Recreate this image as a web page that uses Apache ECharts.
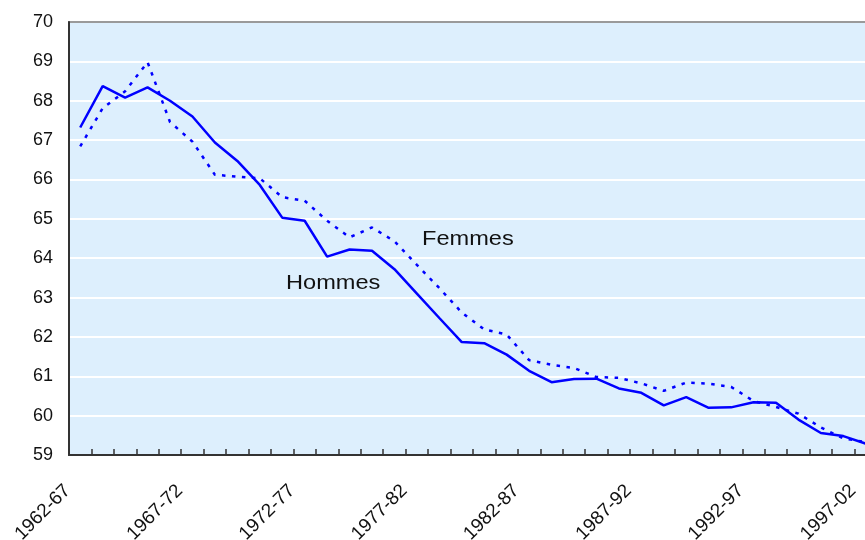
<!DOCTYPE html>
<html>
<head>
<meta charset="utf-8">
<script src="https://cdn.jsdelivr.net/npm/echarts@6/dist/echarts.min.js"></script>
<style>
html,body{margin:0;padding:0;background:#fff;overflow:hidden;}
#chart{width:865px;height:540px;}
</style>
</head>
<body>
<div id="chart"></div>
<script>
var categories = ['1962-67','1963-68','1964-69','1965-70','1966-71','1967-72','1968-73','1969-74','1970-75','1971-76','1972-77','1973-78','1974-79','1975-80','1976-81','1977-82','1978-83','1979-84','1980-85','1981-86','1982-87','1983-88','1984-89','1985-90','1986-91','1987-92','1988-93','1989-94','1990-95','1991-96','1992-97','1993-98','1994-99','1995-00','1996-01','1997-02'];
var hommes = [67.32,68.37,68.08,68.34,68.0,67.6,66.94,66.47,65.86,65.03,64.95,64.04,64.22,64.19,63.72,63.1,62.48,61.87,61.84,61.55,61.14,60.85,60.93,60.94,60.69,60.58,60.26,60.47,60.2,60.21,60.34,60.33,59.9,59.56,59.48,59.29];
var femmes = [66.84,67.81,68.24,68.98,67.46,66.96,66.12,66.07,66.03,65.55,65.46,64.95,64.53,64.78,64.43,63.83,63.24,62.62,62.19,62.06,61.41,61.29,61.21,60.98,60.96,60.82,60.63,60.84,60.81,60.73,60.37,60.22,60.05,59.7,59.42,59.33];
var seriesNames = ['Hommes','Femmes'];

var FONT = '"Liberation Sans", Arial, sans-serif';
var chart = echarts.init(document.getElementById('chart'), null, {renderer:'canvas'});
chart.setOption({
  animation: false,
  backgroundColor: '#ffffff',
  grid: {
    left: 69, width: 808, top: 22, height: 433,
    containLabel: false, outerBoundsMode: 'none',
    show: true, backgroundColor: '#ddeffd',
    borderColor: '#9a9a9a', borderWidth: 2
  },
  xAxis: {
    type: 'category',
    data: categories,
    boundaryGap: true,
    axisLine: {show: true, lineStyle: {color: '#333333', width: 2}},
    axisTick: {show: true, inside: true, length: 6, interval: 0, lineStyle: {color: '#333333', width: 1.5}},
    axisLabel: {interval: 4, rotate: 45, margin: 20, padding: [0, 18, 0, 0], fontSize: 19, fontFamily: FONT, color: '#111111'},
    splitLine: {show: false}
  },
  yAxis: {
    type: 'value',
    min: 59, max: 70, interval: 1,
    axisLine: {show: true, lineStyle: {color: '#333333', width: 2}},
    axisTick: {show: false},
    axisLabel: {margin: 16, fontSize: 18, fontFamily: FONT, color: '#111111'},
    splitLine: {show: true, showMinLine: false, showMaxLine: false, lineStyle: {color: '#ffffff', width: 2}}
  },
  series: [
    {
      name: seriesNames[0], type: 'line', data: hommes, symbol: 'none', smooth: false,
      lineStyle: {color: '#0000ff', width: 2.5}
    },
    {
      name: seriesNames[1], type: 'line', data: femmes, symbol: 'none', smooth: false,
      lineStyle: {color: '#0000ff', width: 2.5, type: [3.5, 6.5]}
    }
  ],
  graphic: [
    {type: 'text', left: 286, top: 273, scaleX: 1.15, style: {text: seriesNames[0], font: '20.5px ' + FONT, fill: '#111111'}},
    {type: 'text', left: 422, top: 229, scaleX: 1.15, style: {text: seriesNames[1], font: '20.5px ' + FONT, fill: '#111111'}}
  ]
});
</script>
</body>
</html>
